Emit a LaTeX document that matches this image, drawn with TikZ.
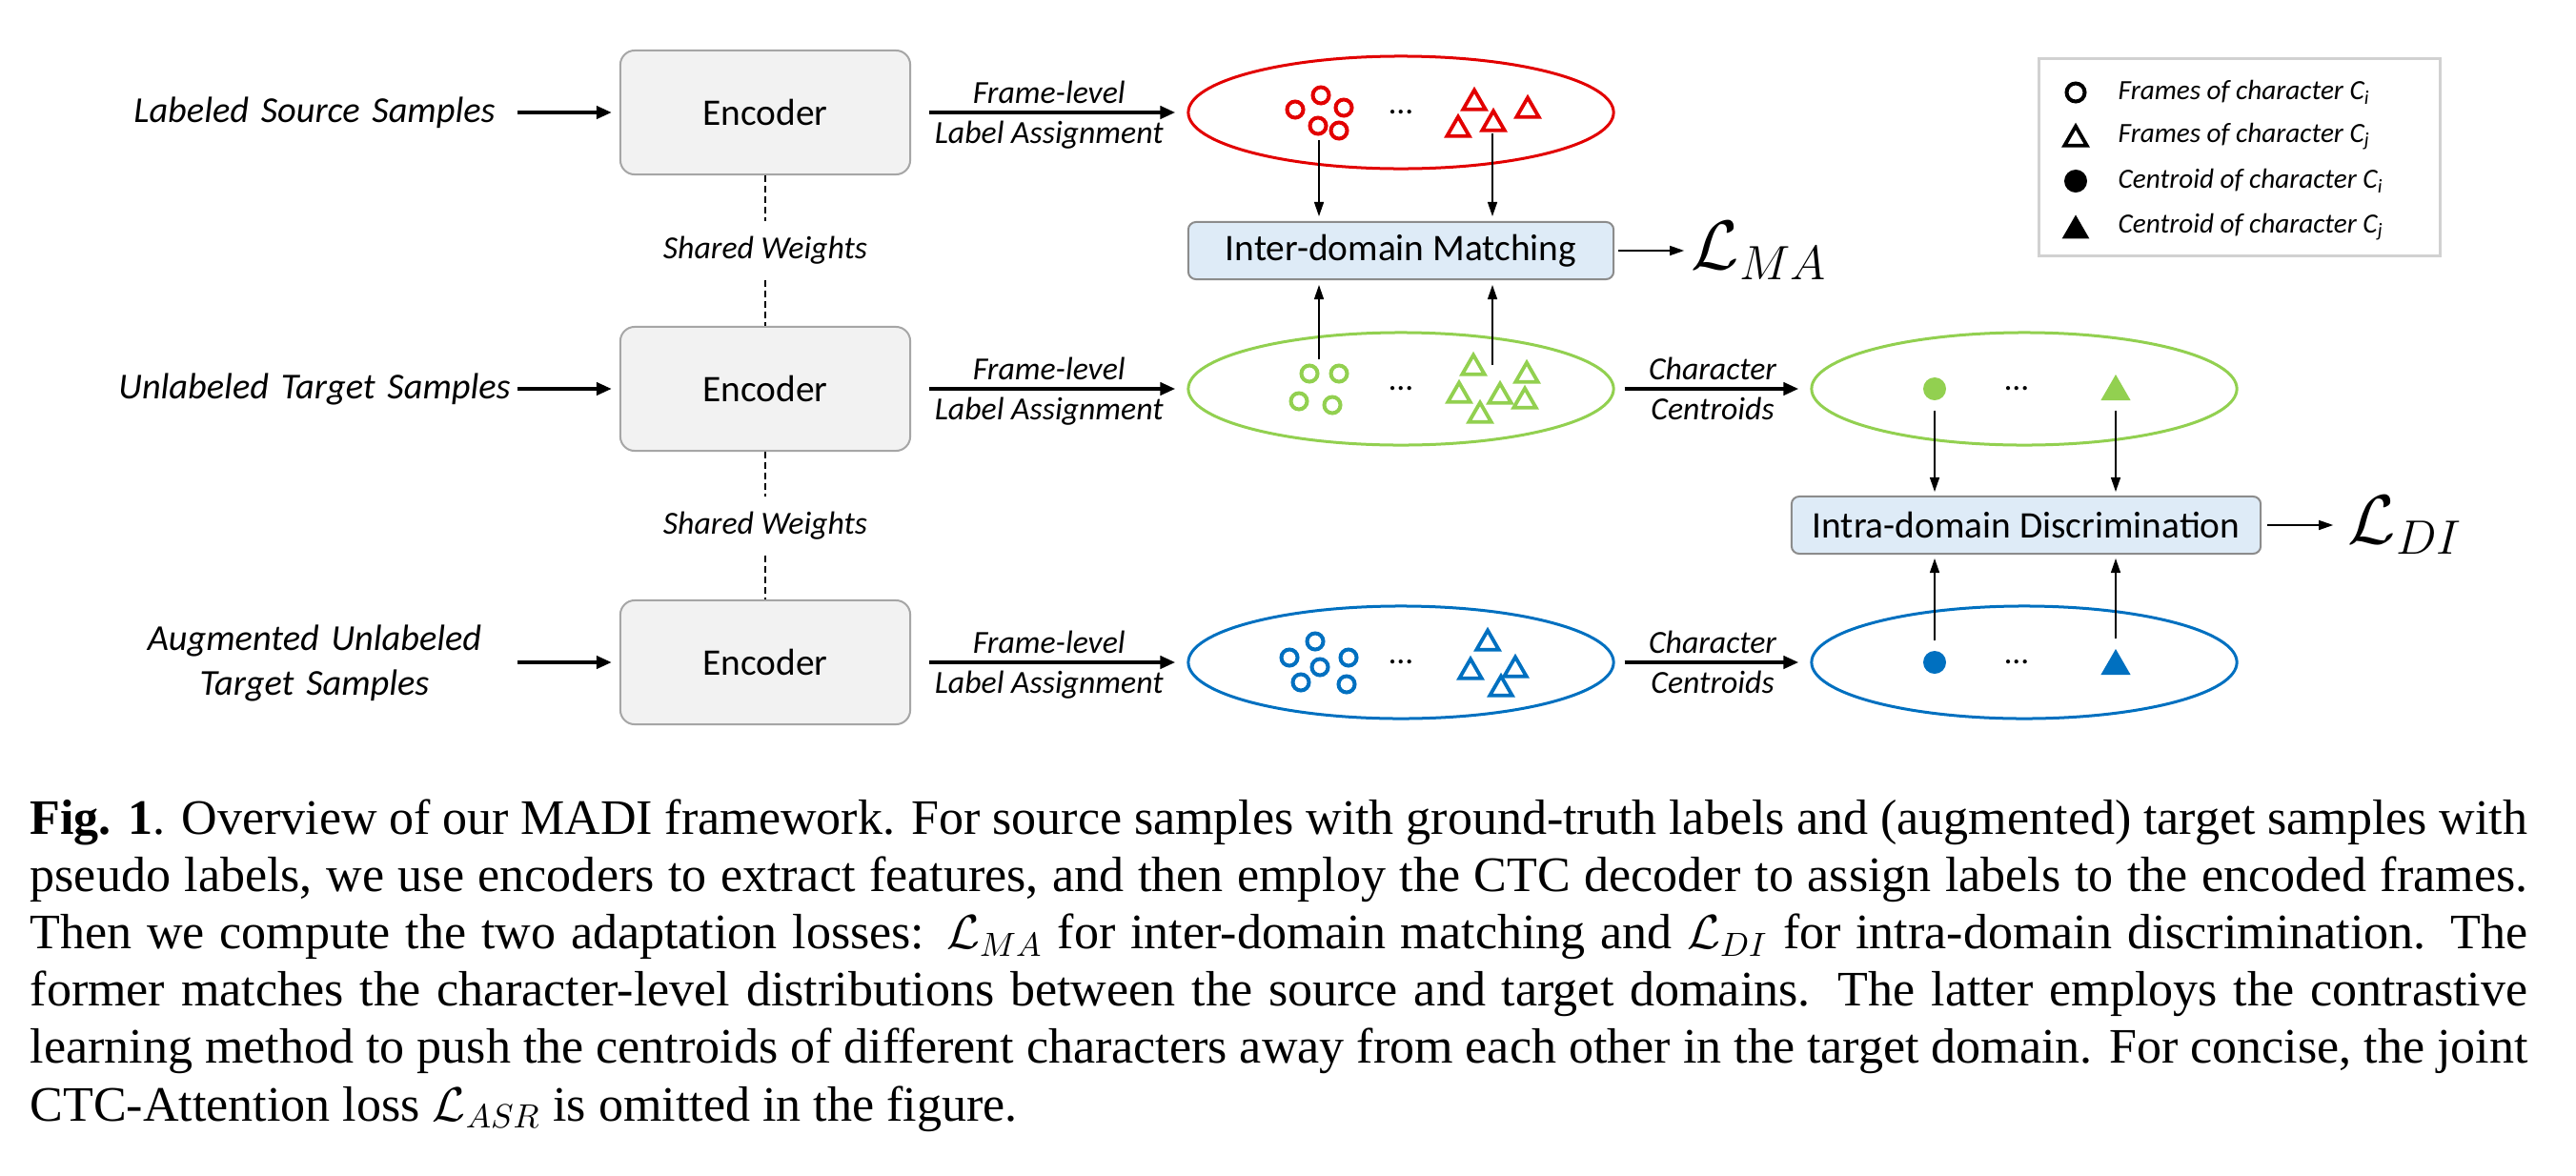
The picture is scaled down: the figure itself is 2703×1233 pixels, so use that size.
\documentclass[tikz,border=0pt]{standalone}
\usepackage{fontspec}
\setmainfont{Liberation Serif}
\newfontfamily\calfont{Carlito}
\usetikzlibrary{arrows.meta,positioning,shapes.geometric}
\definecolor{srcred}{RGB}{226,0,0}
\definecolor{tgtgreen}{RGB}{146,208,80}
\definecolor{augblue}{RGB}{0,112,192}
\definecolor{encfill}{RGB}{242,242,242}
\definecolor{lossfill}{RGB}{222,235,247}

\begin{document}
\begin{tikzpicture}[x=0.01cm, y=-0.01cm,
    enc/.style={rectangle, rounded corners=0.15cm, draw=black!35, line width=0.02cm, fill=encfill,
                minimum width=3.04cm, minimum height=1.3cm, font=\calfont\fontsize{11.2}{13}\selectfont},
    insample/.style={text width=4.24cm, inner sep=0pt, align=center, font=\calfont\itshape\fontsize{10.9}{13.2}\selectfont},
    share/.style={inner sep=0pt, minimum height=0.6cm, font=\calfont\itshape\fontsize{9.6}{11}\selectfont},
    weights/.style={dash pattern=on 0.07cm off 0.04cm, line width=0.015cm},
    cluster/.style={ellipse, draw=#1, line width=0.03cm, minimum width=4.46cm, minimum height=1.18cm, inner sep=0pt},
    lossbox/.style={rectangle, rounded corners=0.08cm, draw=black!45, line width=0.02cm, fill=lossfill,
                    minimum height=0.6cm, inner sep=0pt, font=\calfont\fontsize{11.2}{13}\selectfont},
    loss/.style={inner sep=0pt, font=\fontsize{21}{24}\selectfont},
    armlabel/.style={inner sep=0.07cm, font=\calfont\itshape\fontsize{9.6}{11}\selectfont},
    legtext/.style={anchor=west, inner sep=0pt, font=\calfont\itshape\fontsize{8.3}{10}\selectfont},
    ring/.style={circle, draw=#1, line width=0.04cm, minimum size=0.17cm, inner sep=0pt},
    opentri/.style={regular polygon, regular polygon sides=3, draw=#1, line width=0.038cm, minimum size=0.27cm, inner sep=0pt, yshift=-0.03cm},
    centdot/.style={circle, fill=#1, minimum size=0.24cm, inner sep=0pt},
    fulltri/.style={regular polygon, regular polygon sides=3, fill=#1, minimum size=0.36cm, inner sep=0pt, yshift=-0.04cm},
    ellips/.style={inner sep=0pt, font=\calfont\fontsize{10}{12}\selectfont},
    bigflow/.style={-{Triangle[length=0.16cm,width=0.13cm]}, line width=0.04cm},
    flow/.style={-{Triangle[length=0.15cm,width=0.1cm]}, line width=0.014cm},
    figcap/.style={anchor=north west, text width=26.19cm, align=justify, inner sep=0pt, font=\fontsize{14.8}{17.1}\selectfont}
]
\useasboundingbox (0,0) rectangle (2703,1233);
\node[enc] (enc1) at (803,118) {Encoder};
\node[enc] (enc2) at (803,408) {Encoder};
\node[enc] (enc3) at (803,695) {Encoder};
\node[insample] (src) at (330,118) {Labeled Source Samples};
\node[insample] (tgt) at (330,408) {Unlabeled Target Samples};
\node[insample] (aug) at (330,696) {Augmented Unlabeled\\Target Samples};
\node[share] (sw1) at (803,263) {Shared Weights};
\node[share] (sw2) at (803,552) {Shared Weights};
\draw[weights] (enc1) -- (sw1) -- (enc2); \draw[weights] (enc2) -- (sw2) -- (enc3);

\node[cluster=srcred] (fs) at (1470,118) {};
\node[cluster=tgtgreen] (ft) at (1470,408) {};
\node[cluster=augblue] (fa) at (1470,695) {};
\node[cluster=tgtgreen] (ct) at (2124,408) {};
\node[cluster=augblue] (ca) at (2124,695) {};
\node[lossbox, minimum width=4.46cm] (inter) at (1470,263) {Inter-domain Matching};
\node[lossbox, minimum width=4.92cm] (intra) at (2126,551) {Intra-domain Discrimination};
\node[loss, right=0.8cm of inter] (lma) {$\mathcal{L}_{MA}$};
\node[loss, right=0.9cm of intra] (ldi) {$\mathcal{L}_{DI}$};

\foreach \px/\py [count=\k] in {1359/115,1386/100,1410/113,1383/132,1405/137} \node[ring=srcred] (rs\k) at (\px,\py) {};
\foreach \px/\py [count=\k] in {1547/105,1603/113,1567/127,1530/133} \node[opentri=srcred] (ts\k) at (\px,\py) {};
\foreach \px/\py [count=\k] in {1374/392,1405/392,1363/421,1398/425} \node[ring=tgtgreen] (rt\k) at (\px,\py) {};
\foreach \px/\py [count=\k] in {1546/383,1602/391,1531/412,1574/413,1600/418,1553/433} \node[opentri=tgtgreen] (tt\k) at (\px,\py) {};
\foreach \px/\py [count=\k] in {1380/673,1353/690,1415/690,1385/700,1365/716,1413/718} \node[ring=augblue] (ra\k) at (\px,\py) {};
\foreach \px/\py [count=\k] in {1561/672,1543/702,1590/700,1575/720} \node[opentri=augblue] (ta\k) at (\px,\py) {};
\node[ellips] (ds) at (1470,118) {\dots}; \node[ellips] (dt) at (1470,408) {\dots}; \node[ellips] (da) at (1470,695) {\dots};
\node[centdot=tgtgreen] (cit) at (2030,408) {}; \node[fulltri=tgtgreen] (cjt) at (2220,407) {};
\node[centdot=augblue] (cia) at (2030,695) {}; \node[fulltri=augblue] (cja) at (2220,695) {};
\node[ellips] (dct) at (2116,408) {\dots}; \node[ellips] (dca) at (2116,695) {\dots};

\draw[bigflow, shorten >=0.08cm] (src) -- (enc1);
\draw[bigflow, shorten >=0.08cm] (tgt) -- (enc2);
\draw[bigflow, shorten >=0.08cm] (aug.east |- enc3) -- (enc3);
\draw[bigflow, shorten <=0.19cm, shorten >=0.12cm] (enc1) -- node[armlabel, above] {Frame-level} node[armlabel, below] {Label Assignment} (fs);
\draw[bigflow, shorten <=0.19cm, shorten >=0.12cm] (enc2) -- node[armlabel, above] {Frame-level} node[armlabel, below] {Label Assignment} (ft);
\draw[bigflow, shorten <=0.19cm, shorten >=0.12cm] (enc3) -- node[armlabel, above] {Frame-level} node[armlabel, below] {Label Assignment} (fa);
\draw[bigflow, shorten <=0.1cm, shorten >=0.12cm] (ft) -- node[armlabel, above] {Character} node[armlabel, below] {Centroids} (ct);
\draw[bigflow, shorten <=0.1cm, shorten >=0.12cm] (fa) -- node[armlabel, above] {Character} node[armlabel, below] {Centroids} (ca);

\coordinate (ps) at (1384,147); \coordinate (qs) at (1566,140);
\coordinate (pt) at (1384,377); \coordinate (qt) at (1566,383);
\draw[flow, shorten >=0.05cm] (ps) -- (ps |- inter.north); \draw[flow, shorten >=0.05cm] (qs) -- (qs |- inter.north);
\draw[flow, shorten >=0.05cm] (pt) -- (pt |- inter.south); \draw[flow, shorten >=0.05cm] (qt) -- (qt |- inter.south);
\draw[flow, shorten <=0.1cm, shorten >=0.04cm] (cit) -- (cit |- intra.north); \draw[flow, shorten <=0.1cm, shorten >=0.04cm] (cjt) -- (cjt |- intra.north);
\draw[flow, shorten <=0.1cm, shorten >=0.04cm] (cia) -- (cia |- intra.south); \draw[flow, shorten <=0.1cm, shorten >=0.04cm] (cja) -- (cja |- intra.south);
\draw[flow, shorten <=0.04cm, shorten >=0.07cm] (inter) -- (inter -| lma.west);
\draw[flow, shorten <=0.06cm, shorten >=0.15cm] (intra) -- (intra -| ldi.west);

\node[draw=black!18, line width=0.03cm, minimum width=4.21cm, minimum height=2.07cm, inner sep=0pt] (legend) at (2350,165) {};
\node[ring=black, minimum size=0.19cm] (lg1) at (2178,97) {};
\node[opentri=black] (lg2) at (2178,143) {};
\node[centdot=black] (lg3) at (2178,190) {};
\node[fulltri=black, minimum size=0.33cm] (lg4) at (2178,238) {};
\node[legtext] (lt1) at (2222,97) {Frames of character C\textsubscript{i}};
\node[legtext] (lt2) at (2222,143) {Frames of character C\textsubscript{j}};
\node[legtext] (lt3) at (2222,190) {Centroid of character C\textsubscript{i}};
\node[legtext] (lt4) at (2222,238) {Centroid of character C\textsubscript{j}};

\node[figcap] (cap) at (31,838) {\noindent\textbf{Fig. 1}. Overview of our MADI framework. For source samples with ground-truth labels and (augmented) target samples with\linebreak
pseudo labels, we use encoders to extract features, and then employ the CTC decoder to assign labels to the encoded frames.\linebreak
Then we compute the two adaptation losses: $\mathcal{L}_{MA}$ for inter-domain matching and $\mathcal{L}_{DI}$ for intra-domain discrimination. The\linebreak
former matches the character-level distributions between the source and target domains. The latter employs the contrastive\linebreak
learning method to push the centroids of different characters away from each other in the target domain. For concise, the joint\linebreak
CTC-Attention loss $\mathcal{L}_{ASR}$ is omitted in the figure.};
\end{tikzpicture}
\end{document}
